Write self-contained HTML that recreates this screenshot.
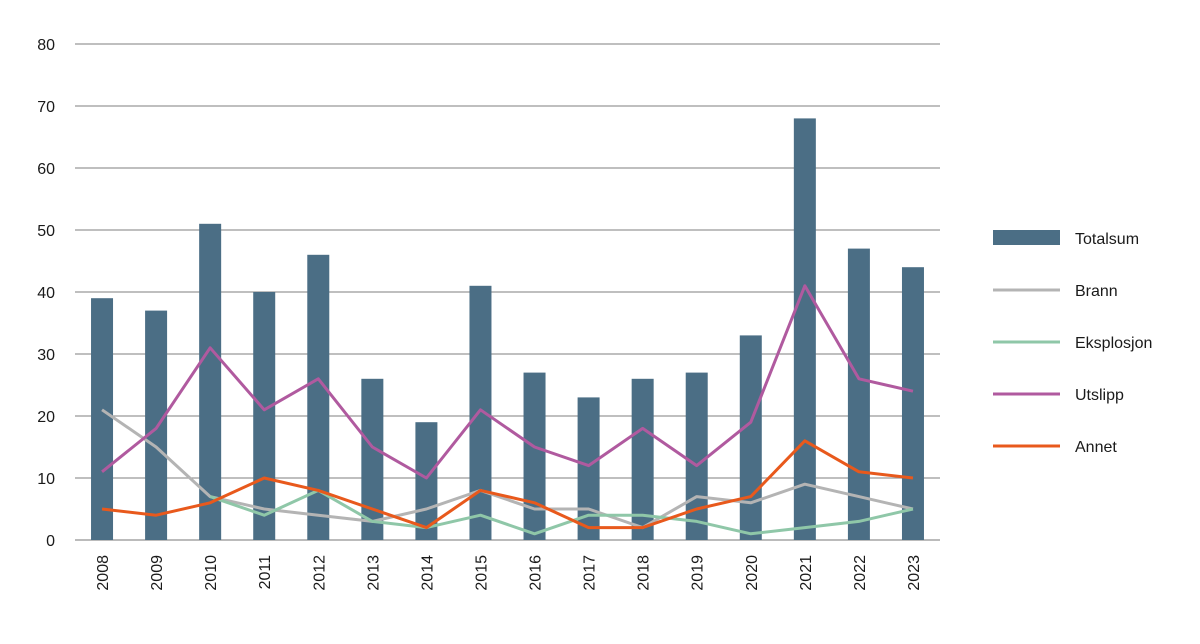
<!DOCTYPE html>
<html><head><meta charset="utf-8"><style>
body{margin:0;background:#fff;font-family:"Liberation Sans",sans-serif;}
svg text{font-family:"Liberation Sans",sans-serif;font-size:16px;fill:#1a1a1a;}
</style></head><body>
<svg id="chart" width="1200" height="639" xmlns="http://www.w3.org/2000/svg"></svg>
<script>
const years=["2008","2009","2010","2011","2012","2013","2014","2015","2016","2017","2018","2019","2020","2021","2022","2023"];
const totalsum=[39,37,51,40,46,26,19,41,27,23,26,27,33,68,47,44];
const brann=[21,15,7,5,4,3,5,8,5,5,2,7,6,9,7,5];
const eksplosjon=[null,null,7,4,8,3,2,4,1,4,4,3,1,2,3,5];
const utslipp=[11,18,31,21,26,15,10,21,15,12,18,12,19,41,26,24];
const annet=[5,4,6,10,8,5,2,8,6,2,2,5,7,16,11,10];
const yTicks=[0,10,20,30,40,50,60,70,80];
const NS="http://www.w3.org/2000/svg";
const svg=document.getElementById('chart');
const x0=75,x1=940,y0=540,yTop=44;
const step=(x1-x0)/years.length;
const X=i=>x0+step*(i+0.5);
const Y=v=>y0-(v/80)*(y0-yTop);
function mk(t,a){const e=document.createElementNS(NS,t);for(const k in a)e.setAttribute(k,a[k]);svg.appendChild(e);return e;}
yTicks.forEach(v=>{
 const g=mk('line',{x1:x0,x2:x1,y1:Y(v),y2:Y(v),stroke:v===0?'#bbb':'#999','stroke-width':v===0?2:1.2});
 
 
 const t=mk('text',{x:55,y:Y(v)+6,'text-anchor':'end'});t.textContent=v;
 
 
});
totalsum.forEach((v,i)=>{
 const r=mk('rect',{x:X(i)-11,y:Y(v),width:22,height:y0-Y(v),fill:'#4b6e85'});
 
 
});
years.forEach((yr,i)=>{
 const t=mk('text',{x:0,y:0,transform:`translate(${X(i)+6},${555}) rotate(-90)`,'text-anchor':'end'});t.textContent=yr;
 
 
});
function line(data,color,name){
 let d='';data.forEach((v,i)=>{if(v===null)return;d+=(d?'L':'M')+X(i)+','+Y(v);});
 const p=mk('path',{d,fill:'none',stroke:color,'stroke-width':3,'stroke-linejoin':'round'});
 
 
}
line(brann,'#b4b4b4','brann');
line(eksplosjon,'#8fc7a8','eksplosjon');
line(utslipp,'#b05a9f','utslipp');
line(annet,'#e8591c','annet');
const leg=[['Totalsum','#4b6e85',true],['Brann','#b4b4b4'],['Eksplosjon','#8fc7a8'],['Utslipp','#b05a9f'],['Annet','#e8591c']];
leg.forEach((l,i)=>{
 const cy=238+i*52;
 let s;
 if(l[2]) s=mk('rect',{x:993,y:cy-8,width:67,height:15,fill:l[1]});
 else s=mk('line',{x1:993,x2:1060,y1:cy,y2:cy,stroke:l[1],'stroke-width':3});
 
 
 const t=mk('text',{x:1075,y:cy+6});t.textContent=l[0];
 
 
});
</script>
</body></html>
